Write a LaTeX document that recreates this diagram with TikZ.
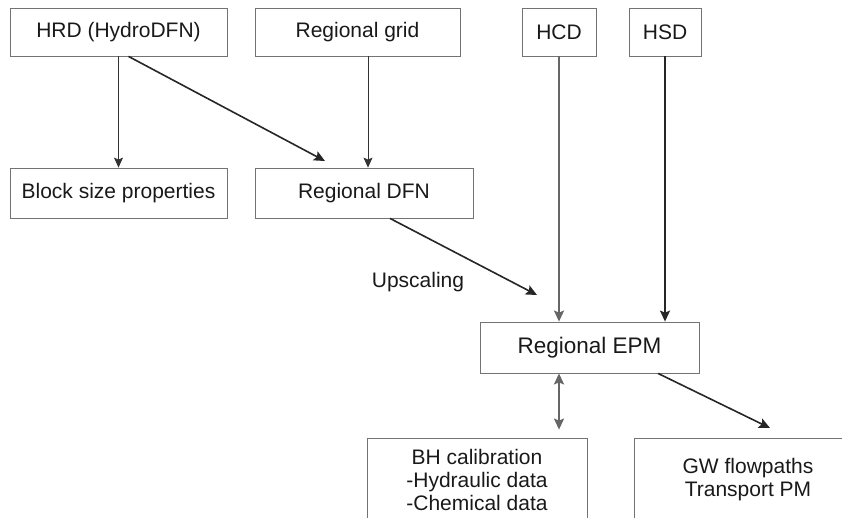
\documentclass[tikz,border=0pt]{standalone}
\usepackage{fontspec}
\setmainfont{Liberation Sans}
\usepackage{tikz}
\usetikzlibrary{arrows.meta,positioning}

\begin{document}
\begin{tikzpicture}[
  x=1pt, y=-1pt,
  every node/.style={font=\fontsize{21}{23}\selectfont, text=black!90},
  box/.style={draw=black!55, line width=0.8pt, inner sep=0pt, align=center},
  thinflow/.style={draw=black!80, line width=0.8pt,
                   -{Stealth[length=10pt,width=9pt,inset=2pt]}},
  flow/.style={draw=black!85, line width=1.6pt,
               -{Stealth[length=11pt,width=10pt,inset=2pt]}},
  greyflow/.style={draw=black!60, line width=2pt,
                   -{Stealth[length=11pt,width=10pt,inset=2pt]}}
]
\useasboundingbox (0,0) rectangle (842,517);

%% Input data
\node[box, minimum width=217pt, minimum height=48pt] (hrd)  at (118.5,32) {HRD (HydroDFN)};
\node[box, minimum width=205pt, minimum height=48pt] (grid) at (357.5,32) {Regional grid};
\node[box, minimum width=74pt,  minimum height=48pt] (hcd)  at (559,32)   {HCD};
\node[box, minimum width=72pt,  minimum height=48pt] (hsd)  at (665,32)   {HSD};

%% DFN level
\node[box, minimum width=217pt, minimum height=50pt] (block) at (118.5,193) {Block size properties};
\node[box, minimum width=218pt, minimum height=50pt] (dfn)   at (364,193)   {Regional DFN};

%% Continuum model
\node[box, minimum width=219pt, minimum height=51pt,
      font=\fontsize{22.5}{26}\selectfont] (epm) at (589.5,347.5) {Regional EPM};
\node (upsc) at (418,282) {Upscaling};

%% Outputs
\node[box, minimum width=220pt, minimum height=84pt] (bh) at (477,480)
  {BH calibration\\-Hydraulic data\\-Chemical data};
\node[box, minimum width=228pt, minimum height=84pt] (gw) at (748,480)
  {GW flowpaths\\Transport PM};

%% Loose arrow ends
\coordinate (dfnin) at (325,161);
\coordinate (epmin) at (537,295);
\coordinate (gwin)  at (770,428);

%% Connectors
\draw[thinflow] (hrd.south) -- (block.north);
\draw[thinflow] ([xshift=4pt]grid.south -| dfn.north) -- ([xshift=4pt]dfn.north);
\draw[flow] ([xshift=10pt]hrd.south) -- (dfnin);
\draw[flow] ([xshift=26pt]dfn.south) -- (epmin);
\draw[greyflow] (hcd.south) -- (hcd.south |- epm.north);
\draw[flow] (hsd.south) -- (hsd.south |- epm.north);
\draw[greyflow, {Stealth[length=11pt,width=10pt,inset=2pt]}-{Stealth[length=11pt,width=10pt,inset=2pt]},
      shorten >=8pt] (epm.south -| hcd.south) -- (bh.north -| hcd.south);
\draw[flow] ([xshift=68.5pt]epm.south) -- (gwin);

\end{tikzpicture}
\end{document}
